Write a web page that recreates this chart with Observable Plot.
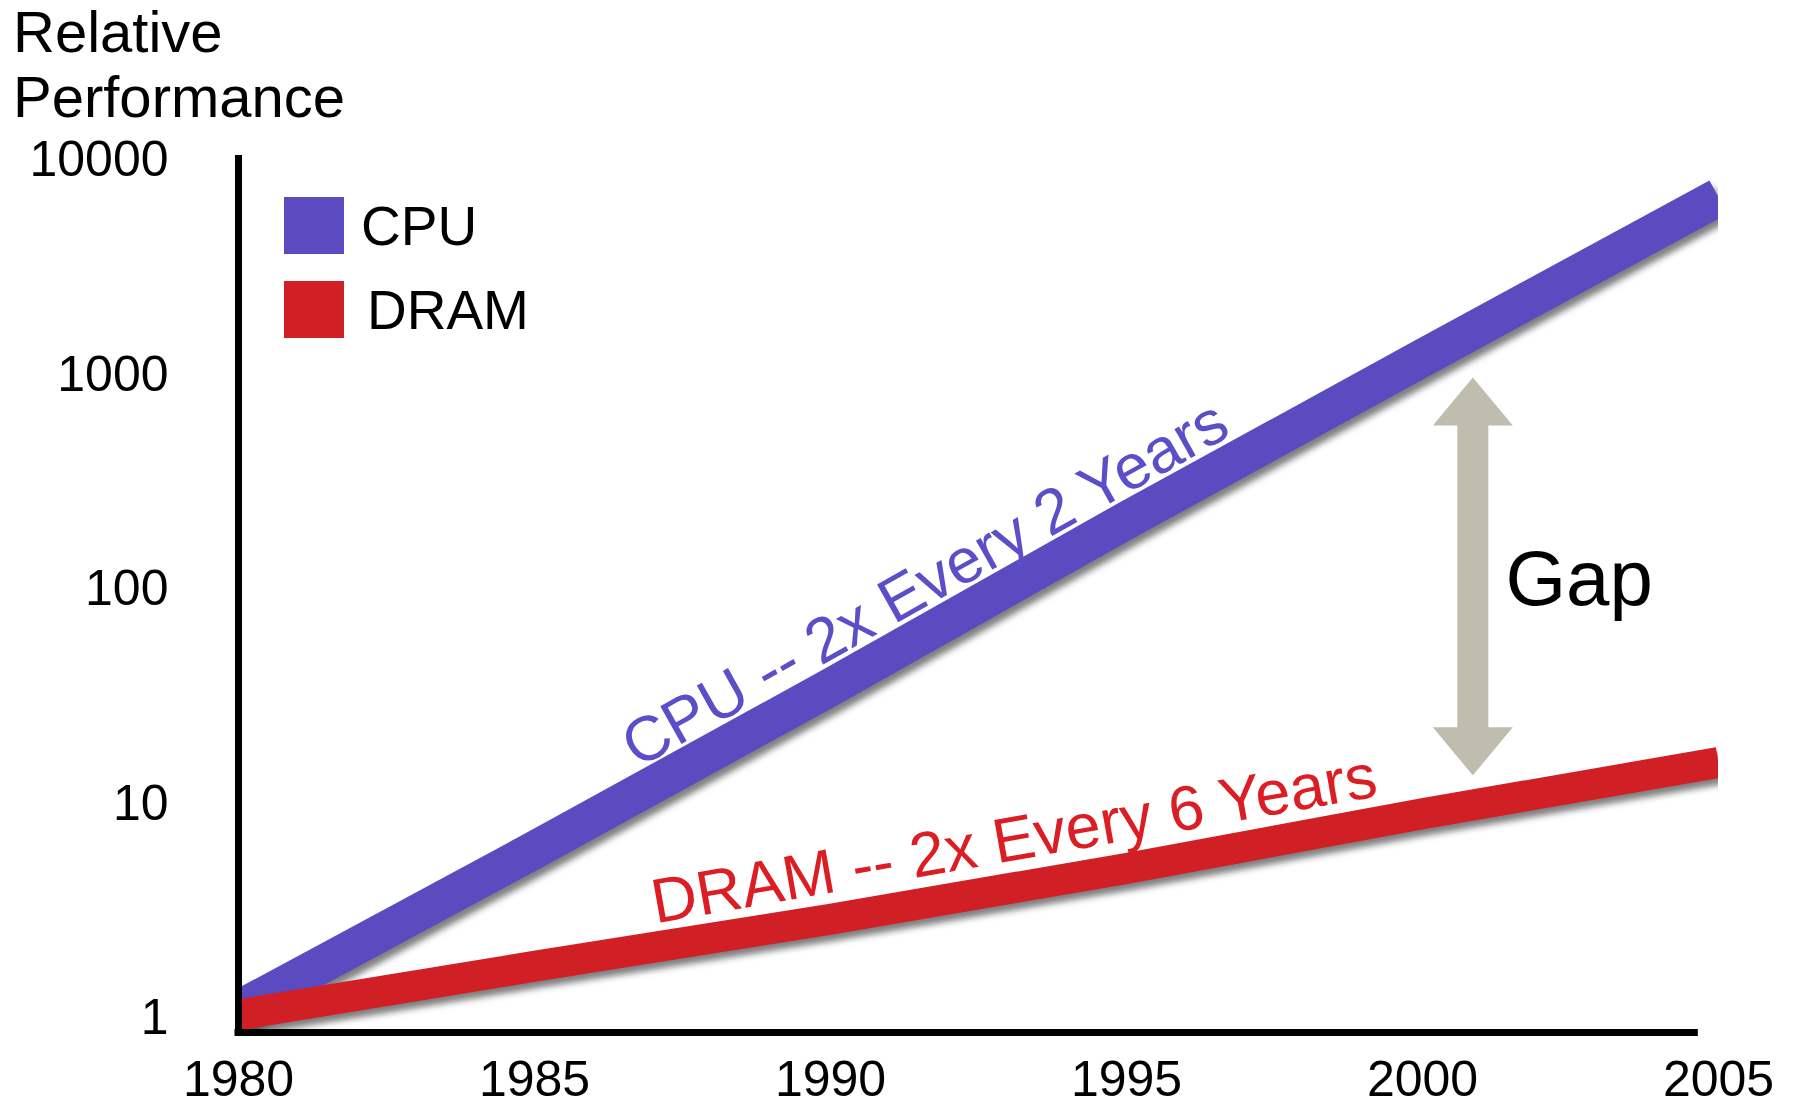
<!DOCTYPE html>
<html>
<head>
<meta charset="utf-8">
<script src="https://cdn.jsdelivr.net/npm/d3@7"></script>
<script src="https://cdn.jsdelivr.net/npm/@observablehq/plot@0.6"></script>
<style>
  html, body { margin: 0; padding: 0; background: #fff; }
  #wrap { position: relative; width: 1797px; height: 1104px; font-family: "Liberation Sans", Arial, sans-serif; color: #000; }
  #wrap svg { position: absolute; left: 0; top: 0; }
  .title { position: absolute; left: 13px; top: -1px; font-size: 58px; line-height: 65px; }
  .sw { position: absolute; left: 284px; width: 60px; height: 57px; }
  .lg { position: absolute; font-size: 55px; line-height: 55px; }
</style>
</head>
<body>
<div id="wrap"></div>
<script>
// ---- data ----
const years = [1980, 1985, 1990, 1995, 2000, 2005];
const cpuPerf = [1.1, 6.1, 35, 210, 1200, 6750];
const dramPerf = [1.04, 1.75, 2.9, 5.0, 9.0, 15.6];
const seriesNames = ["CPU", "DRAM"];
const seriesColors = ["#5a4cc0", "#d11f26"];
const labelColors = ["#5a4fc8", "#dc1d24"];
const xTicks = [1980, 1985, 1990, 1995, 2000, 2005];
const yTicks = [1, 10, 100, 1000, 10000];
const trendText = ["CPU -- 2x Every 2 Years", "DRAM -- 2x Every 6 Years"];
const trendX = [1991.6, 1993.1];
const trendY = [106, 6.8];
const trendAngle = [-29.3, -10];
const gapYear = [2000.85];
const gapHigh = [973];
const gapLow = [13.6];
const gapLabel = ["Gap"];
const gapLabelX = [2001.4];
const gapLabelY = [111];
const axisEndYear = 2004.6;
const yDomain = [0.86, 10550];

// ---- tables built from the arrays ----
const rows = [];
years.forEach((yr, i) => {
  rows.push({series: seriesNames[0], year: yr, value: cpuPerf[i]});
});
years.forEach((yr, i) => {
  rows.push({series: seriesNames[1], year: yr, value: dramPerf[i]});
});
const trends = trendText.map((t, i) => ({text: t, x: trendX[i], y: trendY[i], angle: trendAngle[i], color: labelColors[i]}));
const gap = gapYear.map((g, i) => ({x: g, hi: gapHigh[i], lo: gapLow[i]}));
const gapText = gapLabel.map((t, i) => ({text: t, x: gapLabelX[i], y: gapLabelY[i]}));

const arrowColor = "#c0bcae";
const headUp = {draw(ctx) { ctx.moveTo(0, 0); ctx.lineTo(40, 48); ctx.lineTo(-40, 48); ctx.closePath(); }};
const headDown = {draw(ctx) { ctx.moveTo(0, 0); ctx.lineTo(40, -48); ctx.lineTo(-40, -48); ctx.closePath(); }};

const chart = Plot.plot({
  width: 1797,
  height: 1104,
  marginLeft: 238,
  marginRight: 79,
  marginTop: 155,
  marginBottom: 72,
  style: {fontFamily: "'Liberation Sans', Arial, sans-serif", fontSize: "50px", color: "#000", background: "transparent", overflow: "visible"},
  x: {domain: [1980, 2005], ticks: xTicks, tickFormat: d3.format("d"), tickSize: 0, tickPadding: 28, label: null},
  y: {type: "log", domain: yDomain, ticks: yTicks, tickFormat: d3.format("d"), tickSize: 0, tickPadding: 70, label: null},
  marks: [
    Plot.line(rows.filter(d => d.series === seriesNames[0]), {x: "year", y: "value", stroke: seriesColors[0], strokeWidth: 38, strokeLinecap: "butt", strokeLinejoin: "round", clip: true}),
    Plot.line(rows.filter(d => d.series === seriesNames[1]), {x: "year", y: "value", stroke: seriesColors[1], strokeWidth: 31, strokeLinecap: "butt", strokeLinejoin: "round", clip: true}),
    Plot.ruleX(gap, {x: "x", y1: "hi", y2: "lo", stroke: arrowColor, strokeWidth: 31, insetTop: 40, insetBottom: 40}),
    Plot.dot(gap, {x: "x", y: "hi", symbol: headUp, fill: arrowColor, r: 10}),
    Plot.dot(gap, {x: "x", y: "lo", symbol: headDown, fill: arrowColor, r: 10}),
    Plot.text(trends.slice(0, 1), {x: "x", y: "y", text: "text", rotate: trendAngle[0], fill: labelColors[0], fontSize: 63, textAnchor: "middle"}),
    Plot.text(trends.slice(1, 2), {x: "x", y: "y", text: "text", rotate: trendAngle[1], fill: labelColors[1], fontSize: 63, textAnchor: "middle"}),
    Plot.text(gapText, {x: "x", y: "y", text: "text", fill: "#000", fontSize: 78, textAnchor: "start"}),
    Plot.ruleX([1980], {stroke: "#000", strokeWidth: 7}),
    Plot.ruleY([yDomain[0]], {x1: 1980, x2: axisEndYear, stroke: "#000", strokeWidth: 7, strokeLinecap: "square"})
  ]
});

chart.querySelectorAll('g[aria-label="line"]').forEach(g => {
  g.style.filter = "drop-shadow(4px 6px 3px rgba(0,0,0,0.5))";
});

const wrap = document.getElementById("wrap");
wrap.appendChild(chart);

const title = document.createElement("div");
title.className = "title";
title.innerHTML = "Relative<br>Performance";
wrap.appendChild(title);

const legendTops = [197, 281];
const legendTextLeft = [361, 367];
seriesNames.forEach((name, i) => {
  const sw = document.createElement("div");
  sw.className = "sw";
  sw.style.top = legendTops[i] + "px";
  sw.style.background = seriesColors[i];
  wrap.appendChild(sw);
  const t = document.createElement("div");
  t.className = "lg";
  t.style.left = legendTextLeft[i] + "px";
  t.style.top = (legendTops[i] + 2) + "px";
  t.textContent = name;
  wrap.appendChild(t);
});
</script>
</body>
</html>
